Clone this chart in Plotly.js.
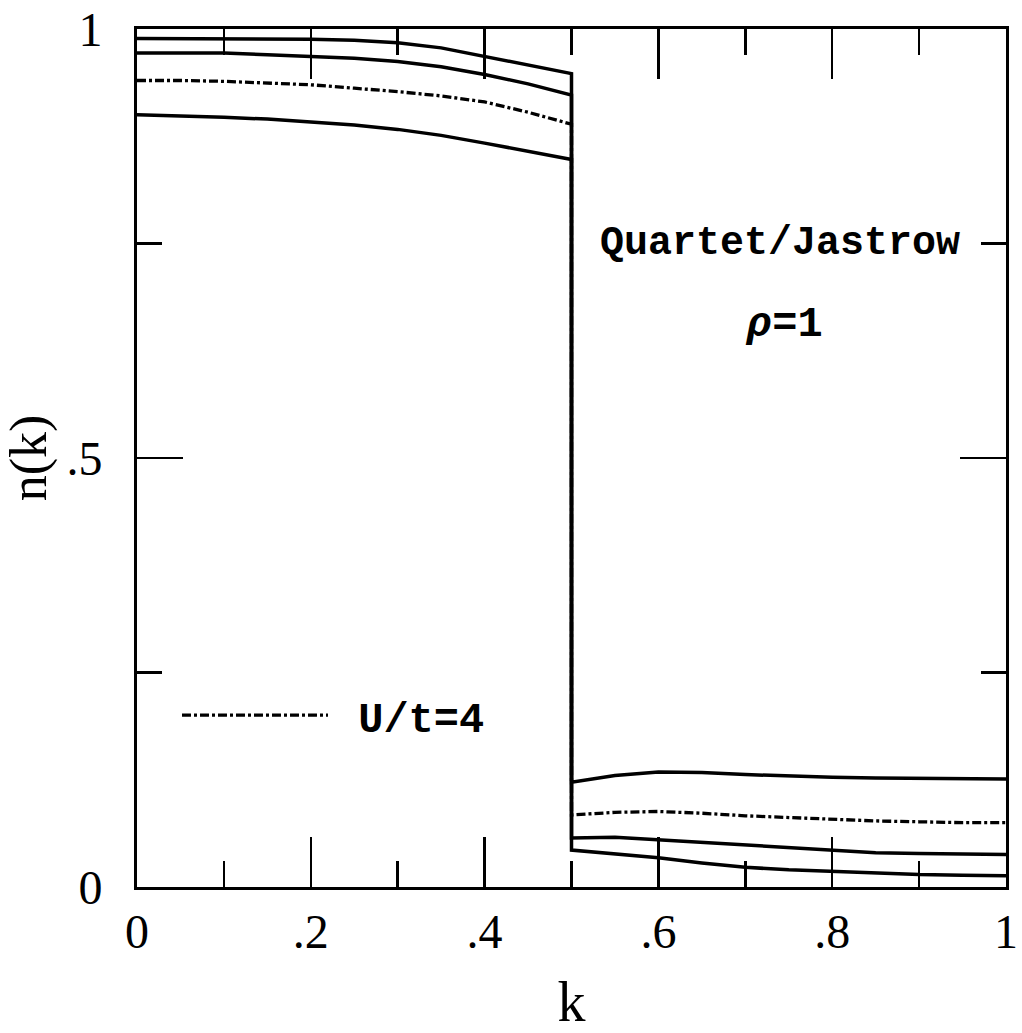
<!DOCTYPE html>
<html>
<head>
<meta charset="utf-8">
<script src="https://cdn.plot.ly/plotly-3.0.1.min.js"></script>
<style>html,body{margin:0;padding:0;background:#fff;}#chart{width:1022px;height:1033px;}</style>
</head>
<body>
<div id="chart"></div>
<script>
// momentum values (k in units of pi), jump at k = 0.5
var kBelow = [0, 0.05, 0.1, 0.15, 0.2, 0.25, 0.3, 0.35, 0.4, 0.45, 0.5];
var kAbove = [0.5, 0.55, 0.6, 0.65, 0.7, 0.75, 0.8, 0.85, 0.9, 0.95, 1.0];

// n(k) for four interaction strengths (weakest to strongest)
var curveA_below = [0.989, 0.989, 0.989, 0.989, 0.988, 0.987, 0.984, 0.978, 0.968, 0.958, 0.948];
var curveA_above = [0.043, 0.039, 0.034, 0.028, 0.023, 0.020, 0.018, 0.016, 0.0145, 0.0138, 0.0132];
var curveB_below = [0.972, 0.972, 0.972, 0.970, 0.968, 0.966, 0.962, 0.956, 0.947, 0.936, 0.923];
var curveB_above = [0.057, 0.058, 0.055, 0.052, 0.048, 0.045, 0.042, 0.040, 0.039, 0.038, 0.038];
var curveU4_below = [0.940, 0.940, 0.939, 0.937, 0.935, 0.931, 0.927, 0.922, 0.915, 0.903, 0.889];
var curveU4_above = [0.084, 0.087, 0.088, 0.086, 0.083, 0.081, 0.079, 0.077, 0.076, 0.075, 0.075];
var curveD_below = [0.900, 0.899, 0.897, 0.895, 0.892, 0.888, 0.883, 0.876, 0.867, 0.858, 0.848];
var curveD_above = [0.122, 0.130, 0.134, 0.1335, 0.131, 0.129, 0.128, 0.127, 0.1265, 0.126, 0.126];

var xTickVals = [0, 0.2, 0.4, 0.6, 0.8, 1];
var xTickText = ['0', '.2', '.4', '.6', '.8', '1'];
var yTickVals = [0, 0.5, 1];
var yTickText = ['0', '.5', '1'];

var legendLabel = 'U/t=4';
var noteTitle = 'Quartet/Jastrow';
var noteRho = '<i>ρ</i>=1';

var kAll = kBelow.concat(kAbove);
function join(a, b) { return a.concat(b); }

var solid = {color: '#000', width: 3.5};
var traces = [
  {x: kAll, y: join(curveA_below, curveA_above), mode: 'lines', line: solid, showlegend: false, hoverinfo: 'skip'},
  {x: kAll, y: join(curveB_below, curveB_above), mode: 'lines', line: solid, showlegend: false, hoverinfo: 'skip'},
  {x: kAll, y: join(curveD_below, curveD_above), mode: 'lines', line: solid, showlegend: false, hoverinfo: 'skip'},
  {x: kAll, y: join(curveU4_below, curveU4_above), mode: 'lines', name: '&nbsp;' + legendLabel,
   line: {color: '#000', width: 3.3, dash: '9px,3px,3px,3px'}, showlegend: true, hoverinfo: 'skip'}
];

var serif = 'Liberation Serif, DejaVu Serif, serif';
var tickFont = {family: serif, size: 48, color: '#000'};
var layout = {
  width: 1022, height: 1033,
  margin: {l: 137, r: 16, t: 29, b: 146},
  paper_bgcolor: '#fff', plot_bgcolor: '#fff',
  showlegend: true,
  legend: {x: 0.046, y: 0.2, xanchor: 'left', yanchor: 'middle', bgcolor: 'rgba(0,0,0,0)',
           itemwidth: 146, font: {family: 'Liberation Mono, monospace', size: 42, color: '#000', weight: 'bold'}},
  xaxis: {
    range: [0, 1], showgrid: false, zeroline: false,
    showline: true, linecolor: '#000', linewidth: 3, mirror: 'ticks',
    ticks: 'inside', ticklen: 50, tickwidth: 2.5, tickcolor: '#000',
    tickmode: 'array', tickvals: xTickVals, ticktext: xTickText,
    tickfont: tickFont, ticklabelstandoff: 0,
    minor: {dtick: 0.1, ticks: 'inside', ticklen: 26, tickwidth: 2.5, tickcolor: '#000', showgrid: false},
    title: {text: 'k', font: {family: serif, size: 56, color: '#000'}}
  },
  yaxis: {
    range: [0, 1], showgrid: false, zeroline: false,
    showline: true, linecolor: '#000', linewidth: 3, mirror: 'ticks',
    ticks: 'inside', ticklen: 46, tickwidth: 2.5, tickcolor: '#000',
    tickmode: 'array', tickvals: yTickVals, ticktext: yTickText,
    tickfont: tickFont, ticklabelstandoff: 22,
    minor: {dtick: 0.25, ticks: 'inside', ticklen: 25, tickwidth: 2.5, tickcolor: '#000', showgrid: false},
    title: {text: 'n(k)', font: {family: serif, size: 52, color: '#000'}, standoff: 10}
  },
  annotations: [
    {x: 0.74, y: 0.75, xref: 'x', yref: 'y', text: noteTitle, showarrow: false,
     font: {family: 'Liberation Mono, monospace', size: 40, color: '#000', weight: 'bold'}},
    {x: 0.745, y: 0.655, xref: 'x', yref: 'y', text: noteRho, showarrow: false,
     font: {family: 'Liberation Mono, monospace', size: 42, color: '#000', weight: 'bold'}}
  ]
};

Plotly.newPlot('chart', traces, layout, {displayModeBar: false, staticPlot: true});
</script>
</body>
</html>
